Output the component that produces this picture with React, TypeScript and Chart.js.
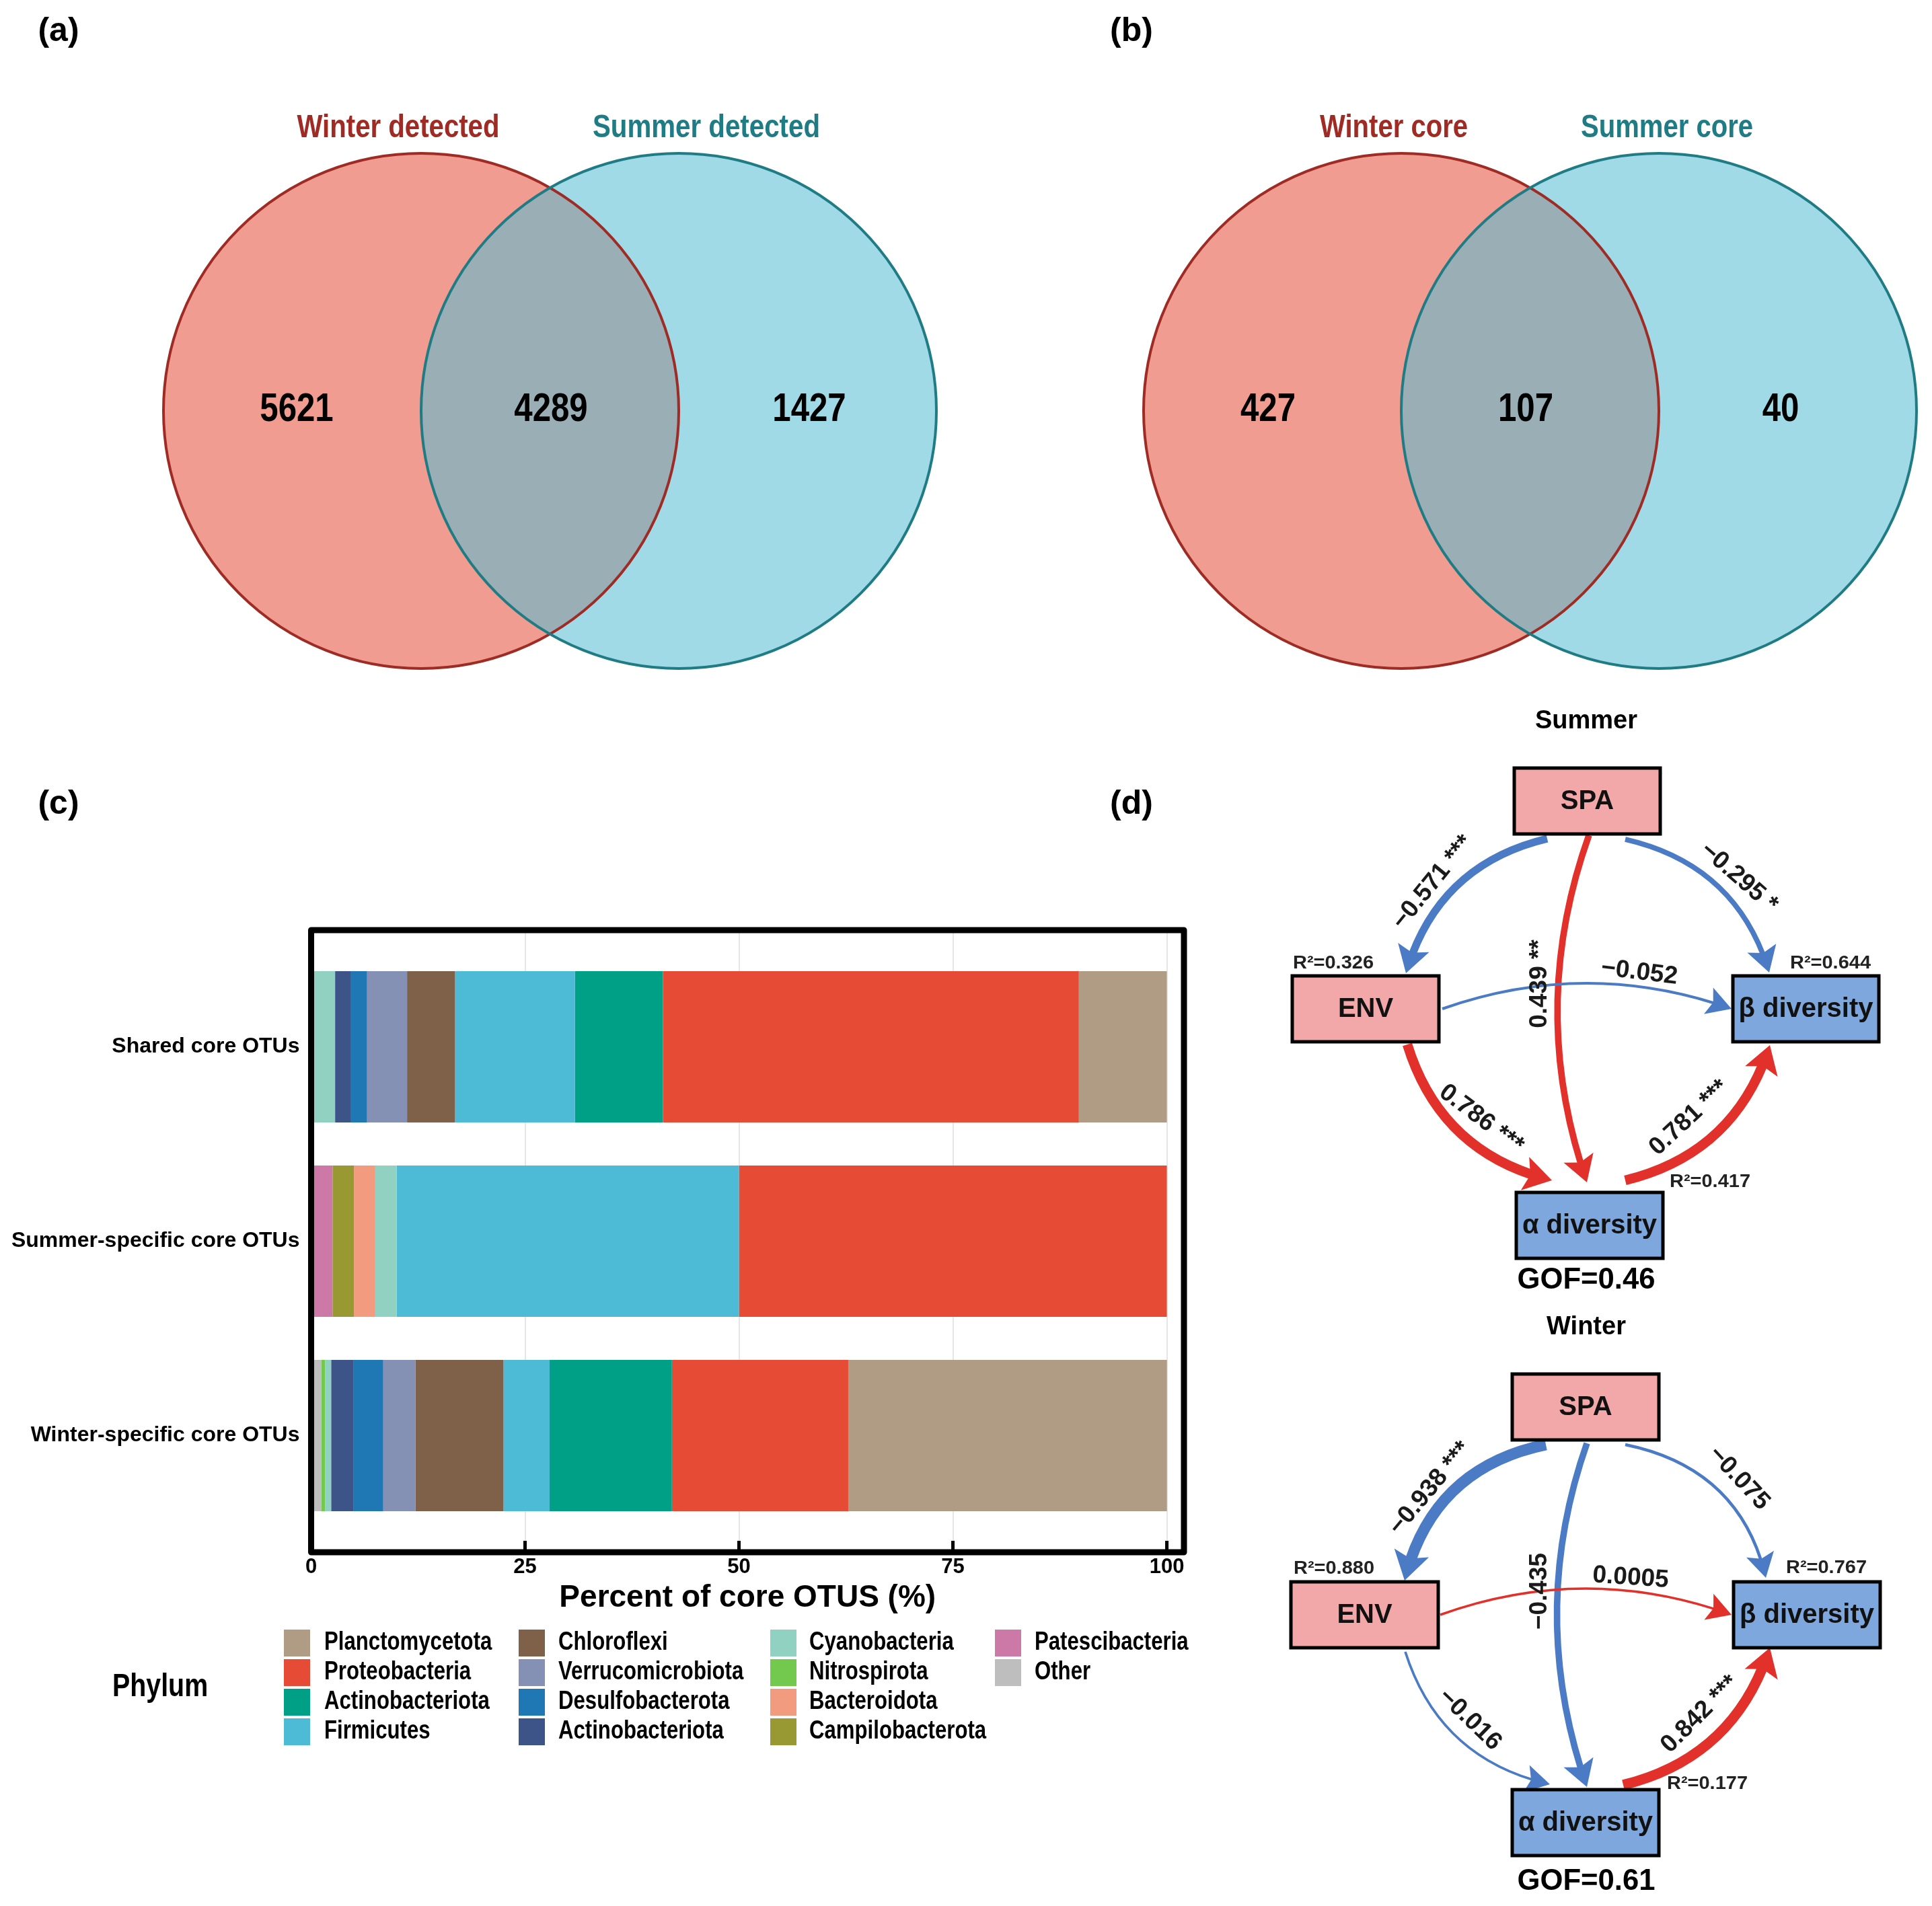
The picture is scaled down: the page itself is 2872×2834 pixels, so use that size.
import React, { useEffect, useRef } from 'react';
import { Chart, registerables } from 'chart.js';

Chart.register(...registerables);

const W = 2872;
const H = 2834;

// ---------------- Panel (a) / (b): Venn data ----------------
const vennDetectedSets = ['Winter detected', 'Summer detected'];
const vennDetectedCounts = [5621, 4289, 1427];
const vennCoreSets = ['Winter core', 'Summer core'];
const vennCoreCounts = [427, 107, 40];

// ---------------- Panel (c): stacked bars ----------------
const barCategories = ['Shared core OTUs', 'Summer-specific core OTUs', 'Winter-specific core OTUs'];
const phylumNames = [
  'Other', 'Patescibacteria', 'Campilobacterota', 'Bacteroidota', 'Nitrospirota', 'Cyanobacteria',
  'Actinobacteriota', 'Desulfobacterota', 'Verrucomicrobiota', 'Chloroflexi', 'Firmicutes',
  'Actinobacteriota', 'Proteobacteria', 'Planctomycetota',
];
const phylumColors = [
  '#BEBEBE', '#CC79A7', '#999933', '#F39B7F', '#72C94E', '#91D1C2',
  '#3C5488', '#1F78B4', '#8491B4', '#7E6148', '#4DBBD5',
  '#00A087', '#E64B35', '#B09C85',
];
const sharedCorePct = [0, 0, 0, 0, 0, 2.8, 1.87, 1.87, 4.67, 5.61, 14.02, 10.28, 48.6, 10.28];
const summerCorePct = [0, 2.5, 2.5, 2.5, 0, 2.5, 0, 0, 0, 0, 40, 0, 50, 0];
const winterCorePct = [1.17, 0, 0, 0, 0.47, 0.7, 2.58, 3.51, 3.75, 10.3, 5.39, 14.29, 20.61, 37.24];
const xTickValues = [0, 25, 50, 75, 100];
const xAxisTitle = 'Percent of core OTUS (%)';
const legendTitle = 'Phylum';

// ---------------- Panel (d): SEM ----------------
const semNodes = ['SPA', 'ENV', 'β diversity', 'α diversity'];
const semFrom = [0, 0, 0, 1, 1, 3];
const semTo = [1, 2, 3, 2, 3, 2];
const summerCoefs = [-0.571, -0.295, 0.439, -0.052, 0.786, 0.781];
const summerSig = ['***', '*', '**', '', '***', '***'];
const summerR2 = [0.326, 0.644, 0.417]; // ENV, beta, alpha
const summerGOF = 0.46;
const winterCoefs = [-0.938, -0.075, -0.435, 0.0005, -0.016, 0.842];
const winterSig = ['***', '', '', '', '', '***'];
const winterR2 = [0.88, 0.767, 0.177];
const winterGOF = 0.61;

// ---------------- styles / layout ----------------
const SANS = '"Liberation Sans", Arial, Helvetica, sans-serif';
const NARROW = '"Liberation Sans Narrow", "Arial Narrow", "Liberation Sans", sans-serif';
const RED_C = '#9E2B24';
const TEAL_C = '#1F7C84';
const WINTER_FILL = '#F09C91';
const SUMMER_FILL = '#A0DAE6';
const OVERLAP_FILL = '#99AEB5';
const PINK = '#F2A7A9';
const BLUEBOX = '#7EA7DD';
const POS = '#E2312A';
const NEG = '#4A7BC4';

type P = [number, number];
type ArrowGeom = { s: P; c: P; e: P; lab: P; rot: number };
type SemGeom = {
  title: P; gof: P;
  boxes: [number, number, number, number][]; // SPA, ENV, beta, alpha
  r2: P[]; // ENV, beta, alpha
  arrows: ArrowGeom[];
};

const summerGeom: SemGeom = {
  title: [2358, 1073], gof: [2358, 1904],
  boxes: [[2251, 1142, 217, 98], [1921, 1451, 218, 98], [2576, 1451, 217, 98], [2254, 1773, 218, 98]],
  r2: [[1982, 1433], [2721, 1433], [2542, 1758]],
  arrows: [
    { s: [2300, 1247], c: [2137, 1286], e: [2090, 1447], lab: [2130, 1312], rot: -51 },
    { s: [2416, 1248], c: [2582, 1286], e: [2630, 1446], lab: [2585, 1305], rot: 41 },
    { s: [2362, 1242], c: [2270, 1500], e: [2359, 1758], lab: [2289, 1463], rot: -90 },
    { s: [2144, 1500], c: [2359, 1424], e: [2574, 1500], lab: [2437, 1446], rot: 7 },
    { s: [2092, 1553], c: [2142, 1715], e: [2307, 1755], lab: [2202, 1664], rot: 37 },
    { s: [2416, 1755], c: [2580, 1715], e: [2631, 1554], lab: [2511, 1662], rot: -43 },
  ],
};
const winterGeom: SemGeom = {
  title: [2358, 1974], gof: [2358, 2798],
  boxes: [[2248, 2043, 218, 98], [1919, 2352, 219, 98], [2577, 2352, 218, 98], [2248, 2661, 218, 98]],
  r2: [[1983, 2333], [2715, 2332], [2538, 2653]],
  arrows: [
    { s: [2298, 2148], c: [2129, 2183], e: [2088, 2350], lab: [2126, 2213], rot: -50 },
    { s: [2416, 2148], c: [2587, 2183], e: [2625, 2346], lab: [2585, 2198], rot: 47 },
    { s: [2359, 2146], c: [2270, 2400], e: [2359, 2657], lab: [2289, 2366], rot: -90 },
    { s: [2141, 2401], c: [2358, 2323], e: [2574, 2401], lab: [2424, 2346], rot: 4 },
    { s: [2089, 2456], c: [2140, 2616], e: [2304, 2653], lab: [2185, 2557], rot: 44 },
    { s: [2413, 2654], c: [2579, 2613], e: [2631, 2450], lab: [2527, 2549], rot: -45 },
  ],
};

function hasFont(name: string): boolean {
  const c = document.createElement('canvas').getContext('2d');
  if (!c) return false;
  const sample = 'abcdefghijklmWWWiii0123';
  c.font = 'bold 100px monospace';
  const a = c.measureText(sample).width;
  c.font = `bold 100px "${name}", monospace`;
  const b = c.measureText(sample).width;
  return Math.abs(a - b) > 0.5;
}

type TOpt = { size: number; family?: string; weight?: string; color?: string; align?: CanvasTextAlign; rot?: number; sx?: number; fit?: number };
function txt(ctx: CanvasRenderingContext2D, s: string, x: number, y: number, o: TOpt) {
  ctx.save();
  ctx.translate(x, y);
  if (o.rot) ctx.rotate((o.rot * Math.PI) / 180);
  ctx.font = `${o.weight ?? 'bold'} ${o.size}px ${o.family ?? SANS}`;
  let sx = o.sx ?? 1;
  if (o.fit) sx = o.fit / ctx.measureText(s).width;
  ctx.scale(sx, 1);
  ctx.fillStyle = o.color ?? '#000';
  ctx.textAlign = o.align ?? 'center';
  ctx.textBaseline = 'middle';
  ctx.fillText(s, 0, 0);
  ctx.restore();
}

function drawVenn(ctx: CanvasRenderingContext2D, cx1: number, cx2: number, cy: number, r: number,
  sets: string[], counts: number[], labelX: number[], labelFit: number[], numX: number[], nf: { family: string; sx: number }) {
  ctx.save();
  ctx.beginPath(); ctx.arc(cx1, cy, r, 0, Math.PI * 2); ctx.fillStyle = WINTER_FILL; ctx.fill();
  ctx.beginPath(); ctx.arc(cx2, cy, r, 0, Math.PI * 2); ctx.fillStyle = SUMMER_FILL; ctx.fill();
  ctx.save();
  ctx.beginPath(); ctx.arc(cx1, cy, r, 0, Math.PI * 2); ctx.clip();
  ctx.beginPath(); ctx.arc(cx2, cy, r, 0, Math.PI * 2); ctx.fillStyle = OVERLAP_FILL; ctx.fill();
  ctx.restore();
  ctx.lineWidth = 4;
  ctx.beginPath(); ctx.arc(cx1, cy, r, 0, Math.PI * 2); ctx.strokeStyle = RED_C; ctx.stroke();
  ctx.beginPath(); ctx.arc(cx2, cy, r, 0, Math.PI * 2); ctx.strokeStyle = TEAL_C; ctx.stroke();
  ctx.restore();
  txt(ctx, sets[0], labelX[0], 190, { size: 49, family: nf.family, color: RED_C, fit: labelFit[0] });
  txt(ctx, sets[1], labelX[1], 190, { size: 49, family: nf.family, color: TEAL_C, fit: labelFit[1] });
  counts.forEach((n, i) => txt(ctx, String(n), numX[i], 609, { size: 60, family: nf.family, sx: nf.sx }));
}

function qpt(a: P, c: P, b: P, t: number): P {
  const u = 1 - t;
  return [u * u * a[0] + 2 * u * t * c[0] + t * t * b[0], u * u * a[1] + 2 * u * t * c[1] + t * t * b[1]];
}

function drawArrow(ctx: CanvasRenderingContext2D, g: ArrowGeom, coef: number) {
  const lw = 3.5 + 14 * Math.abs(coef);
  const color = coef >= 0 ? POS : NEG;
  const hl = 34 + lw * 0.5;
  const hw = 38 + lw * 0.9;
  let t = 1;
  for (let k = 0; k <= 400; k++) {
    const tt = 1 - k / 400;
    const p = qpt(g.s, g.c, g.e, tt);
    if (Math.hypot(p[0] - g.e[0], p[1] - g.e[1]) >= hl * 0.75) { t = tt; break; }
  }
  const c1: P = [g.s[0] + (g.c[0] - g.s[0]) * t, g.s[1] + (g.c[1] - g.s[1]) * t];
  const pt = qpt(g.s, g.c, g.e, t);
  ctx.save();
  ctx.beginPath();
  ctx.moveTo(g.s[0], g.s[1]);
  ctx.quadraticCurveTo(c1[0], c1[1], pt[0], pt[1]);
  ctx.lineWidth = lw; ctx.strokeStyle = color; ctx.lineCap = 'butt';
  ctx.stroke();
  const tip = qpt(g.s, g.c, g.e, 0.985);
  const dx = g.e[0] - tip[0], dy = g.e[1] - tip[1];
  const L = Math.hypot(dx, dy) || 1;
  const ux = dx / L, uy = dy / L;
  const bx = g.e[0] - ux * hl, by = g.e[1] - uy * hl;
  ctx.beginPath();
  ctx.moveTo(g.e[0], g.e[1]);
  ctx.lineTo(bx - uy * hw / 2, by + ux * hw / 2);
  ctx.lineTo(bx + ux * hl * 0.2, by + uy * hl * 0.2);
  ctx.lineTo(bx + uy * hw / 2, by - ux * hw / 2);
  ctx.closePath();
  ctx.fillStyle = color; ctx.fill();
  ctx.restore();
}

function fmtCoef(c: number, sig: string) {
  const s = c < 0 ? '\u2212' + String(Math.abs(c)) : String(c);
  return sig ? `${s} ${sig}` : s;
}

function drawSEM(ctx: CanvasRenderingContext2D, g: SemGeom, title: string, coefs: number[], sigs: string[], r2: number[], gof: number) {
  txt(ctx, title, g.title[0], g.title[1], { size: 38 });
  coefs.forEach((c, i) => drawArrow(ctx, g.arrows[i], c));
  g.boxes.forEach((b, i) => {
    ctx.save();
    ctx.fillStyle = i < 2 ? PINK : BLUEBOX;
    ctx.fillRect(b[0], b[1], b[2], b[3]);
    ctx.lineWidth = 5; ctx.strokeStyle = '#000';
    ctx.strokeRect(b[0], b[1], b[2], b[3]);
    ctx.restore();
    txt(ctx, semNodes[i], b[0] + b[2] / 2, b[1] + b[3] / 2 + 1, { size: 40, color: '#111' });
  });
  coefs.forEach((c, i) => {
    const a = g.arrows[i];
    void semFrom[i]; void semTo[i];
    txt(ctx, fmtCoef(c, sigs[i]), a.lab[0], a.lab[1], { size: 37, rot: a.rot, color: '#1a1a1a' });
  });
  r2.forEach((v, i) => txt(ctx, `R\u00B2=${v.toFixed(3)}`, g.r2[i][0], g.r2[i][1], { size: 27, color: '#222', fit: 120 }));
  txt(ctx, `GOF=${gof.toFixed(2)}`, g.gof[0], g.gof[1], { size: 44, fit: 205 });
}

export default function App() {
  const ref = useRef<HTMLCanvasElement | null>(null);

  useEffect(() => {
    const canvas = ref.current;
    if (!canvas) return;
    const narrowOK = hasFont('Liberation Sans Narrow');
    const nf = narrowOK ? { family: NARROW, sx: 1 } : { family: SANS, sx: 0.82 };

    const chartLeft = 462.5;
    const chartRight = 1760;
    const chartTop = 1383;
    const chartBottom = 2308;
    const xAxisH = 100;

    const datasets = phylumNames.map((name, i) => ({
      label: name,
      data: [sharedCorePct[i], summerCorePct[i], winterCorePct[i]].map((v, k) => ({ x: v === 0 ? null : v, y: k })),
      backgroundColor: phylumColors[i],
      borderWidth: 0,
      barPercentage: 0.778,
      categoryPercentage: 1,
    }));

    const decor = {
      id: 'decor',
      afterDatasetsDraw(chart: any) {
        const { ctx, chartArea: a, scales } = chart;
        ctx.save();
        ctx.strokeStyle = '#000';
        ctx.lineWidth = 5;
        for (const v of xTickValues) {
          if (v === 0) continue;
          const x = scales.x.getPixelForValue(v);
          ctx.beginPath(); ctx.moveTo(x, a.bottom); ctx.lineTo(x, a.bottom - 17); ctx.stroke();
        }
        ctx.lineWidth = 9; ctx.lineJoin = 'round';
        ctx.strokeRect(a.left, a.top, a.right - a.left, a.bottom - a.top);
        ctx.restore();
      },
      afterDraw(chart: any) {
        const ctx: CanvasRenderingContext2D = chart.ctx;
        txt(ctx, '(a)', 87, 47, { size: 50 });
        txt(ctx, '(b)', 1682, 47, { size: 50 });
        txt(ctx, '(c)', 87, 1196, { size: 50 });
        txt(ctx, '(d)', 1682, 1196, { size: 50 });
        drawVenn(ctx, 626, 1009, 611, 383, vennDetectedSets, vennDetectedCounts, [592, 1050], [301, 338], [441, 819, 1203], nf);
        drawVenn(ctx, 2083, 2466, 611, 383, vennCoreSets, vennCoreCounts, [2072, 2478], [220, 256], [1885, 2268, 2647], nf);
        txt(ctx, legendTitle, 167, 2509, { size: 48, family: nf.family, sx: nf.sx, align: 'left' });
        const swX = [422, 771, 1145, 1479];
        const tX = [482, 830, 1203, 1538];
        const rowY = [2443, 2487, 2531, 2575];
        const order = phylumNames.map((_, i) => phylumNames.length - 1 - i);
        order.forEach((di, k) => {
          const col = Math.floor(k / 4), row = k % 4;
          ctx.fillStyle = phylumColors[di];
          ctx.fillRect(swX[col], rowY[row] - 20, 39, 40);
          txt(ctx, phylumNames[di], tX[col], rowY[row], { size: 38, family: nf.family, sx: nf.sx, align: 'left' });
        });
        drawSEM(ctx, summerGeom, 'Summer', summerCoefs, summerSig, summerR2, summerGOF);
        drawSEM(ctx, winterGeom, 'Winter', winterCoefs, winterSig, winterR2, winterGOF);
      },
    };

    const chart = new Chart(canvas, {
      type: 'bar',
      data: { datasets: datasets as any },
      options: {
        indexAxis: 'y',
        animation: false,
        responsive: false,
        maintainAspectRatio: false,
        devicePixelRatio: 1,
        layout: { padding: { left: 0, top: chartTop, right: W - chartRight, bottom: H - chartBottom - xAxisH } },
        plugins: { legend: { display: false }, tooltip: { enabled: false }, title: { display: false } },
        scales: {
          x: {
            type: 'linear',
            stacked: true,
            min: 0,
            max: 102,
            offset: false,
            afterBuildTicks: (s: any) => { s.ticks = xTickValues.map((v) => ({ value: v })); },
            afterFit: (s: any) => { s.height = xAxisH; },
            grid: { color: '#E6E6E6', lineWidth: 2, drawTicks: false },
            border: { display: false },
            ticks: {
              autoSkip: false,
              padding: 4,
              color: '#000',
              font: { family: narrowOK ? NARROW : SANS, size: narrowOK ? 38 : 31, weight: 'bold' },
              callback: (v: any) => String(v),
            },
            title: {
              display: true,
              text: xAxisTitle,
              color: '#000',
              padding: { top: 0, bottom: 4 },
              font: { family: narrowOK ? NARROW : SANS, size: narrowOK ? 55 : 46, weight: 'bold' },
            },
          },
          y: {
            type: 'linear',
            stacked: true,
            reverse: true,
            offset: false,
            min: -0.6,
            max: 2.6,
            afterBuildTicks: (s: any) => { s.ticks = barCategories.map((_, i) => ({ value: i })); },
            afterFit: (s: any) => { s.width = chartLeft; },
            grid: { display: false, drawTicks: false, offset: false },
            border: { display: false },
            ticks: {
              autoSkip: false,
              padding: 17,
              color: '#000',
              font: { family: SANS, size: 32, weight: 'bold' },
              callback: (v: any) => barCategories[Number(v)] ?? '',
            },
          },
        },
      } as any,
      plugins: [decor],
    });
    return () => chart.destroy();
  }, []);

  return (
    <div style={{ position: 'absolute', left: 0, top: 0, width: W, height: H, background: '#fff' }}>
      <canvas ref={ref} width={W} height={H} style={{ width: W, height: H, display: 'block' }} />
    </div>
  );
}
